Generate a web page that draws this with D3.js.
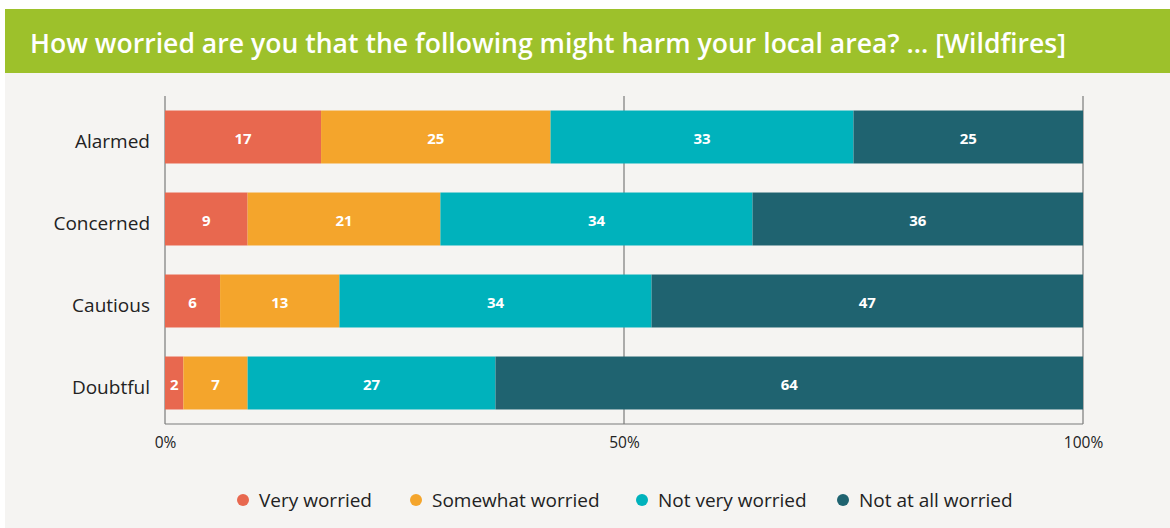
<!DOCTYPE html>
<html>
<head>
<meta charset="utf-8">
<script src="https://cdn.jsdelivr.net/npm/d3@7"></script>
<style>
  html, body { margin: 0; padding: 0; background: #ffffff; }
  svg { display: block; font-family: "Open Sans", "Noto Sans", sans-serif; }
</style>
</head>
<body>
<svg id="chart" width="1170" height="528"></svg>
<script>
// Survey segments and their answer shares (percent)
const categories = ["Alarmed", "Concerned", "Cautious", "Doubtful"];
const seriesNames = ["Very worried", "Somewhat worried", "Not very worried", "Not at all worried"];
const veryWorried = [17, 9, 6, 2];
const somewhatWorried = [25, 21, 13, 7];
const notVeryWorried = [33, 34, 34, 27];
const notAtAllWorried = [25, 36, 47, 64];
const tickValues = [0, 50, 100];
const tickLabels = ["0%", "50%", "100%"];
const colors = ["#E8684F", "#F4A52C", "#00B2BC", "#1F6370"];
const title = "How worried are you that the following might harm your local area? ... [Wildfires]";

const seriesValues = [veryWorried, somewhatWorried, notVeryWorried, notAtAllWorried];
const rows = categories.map((c, i) => {
  const r = { category: c };
  seriesNames.forEach((s, j) => { r[s] = seriesValues[j][i]; });
  return r;
});

const svg = d3.select("#chart");

// panel background and title banner
svg.append("rect").attr("x", 5).attr("y", 9).attr("width", 1165).attr("height", 519).attr("fill", "#F5F4F2");
svg.append("rect").attr("x", 5).attr("y", 9).attr("width", 1165).attr("height", 64).attr("fill", "#9DC12B");
svg.append("text").attr("x", 30).attr("y", 52.5)
  .attr("fill", "#ffffff").attr("font-size", 26.5).attr("font-weight", 600)
  .attr("textLength", 1036).attr("lengthAdjust", "spacingAndGlyphs")
  .text(title);

const x = d3.scaleLinear().domain([0, 100]).range([165, 1083]);
const y = d3.scaleBand().domain(categories).range([96, 424]).paddingInner(0.354).paddingOuter(0.177);

// vertical grid lines at tick positions
svg.append("g").selectAll("line").data(tickValues).join("line")
  .attr("x1", d => x(d)).attr("x2", d => x(d))
  .attr("y1", 96).attr("y2", 424)
  .attr("stroke", "#7a7a7a").attr("stroke-width", 1.2);

// stacked bars
const stack = d3.stack().keys(seriesNames)(rows);
const layers = svg.append("g").selectAll("g").data(stack).join("g")
  .attr("fill", (d, i) => colors[i]);
layers.selectAll("rect").data(d => d).join("rect")
  .attr("x", d => x(d[0]))
  .attr("y", d => y(d.data.category))
  .attr("width", d => x(d[1]) - x(d[0]))
  .attr("height", y.bandwidth());

// value labels
const labels = svg.append("g");
stack.forEach(layer => {
  layer.forEach(d => {
    labels.append("text")
      .attr("x", (x(d[0]) + x(d[1])) / 2)
      .attr("y", y(d.data.category) + y.bandwidth() / 2 + 2)
      .attr("dy", "0.36em")
      .attr("text-anchor", "middle")
      .attr("fill", "#ffffff").attr("font-size", 15).attr("font-weight", 700)
      .text(d[1] - d[0]);
  });
});

// bottom axis baseline and tick labels
svg.append("line").attr("x1", x(0)).attr("x2", x(100)).attr("y1", 424).attr("y2", 424)
  .attr("stroke", "#7a7a7a").attr("stroke-width", 1.2);
const xAxis = d3.axisBottom(x).tickValues(tickValues).tickFormat((d, i) => tickLabels[i]).tickSize(0).tickPadding(13);
const gx = svg.append("g").attr("transform", "translate(0,424)").call(xAxis);
gx.select(".domain").remove();
gx.selectAll("text").attr("font-size", 15.5).attr("fill", "#222").attr("font-family", "\"Open Sans\", sans-serif");

// category labels
const yAxis = d3.axisLeft(y).tickSize(0).tickPadding(15);
const gy = svg.append("g").attr("transform", "translate(165,4.5)").call(yAxis);
gy.select(".domain").remove();
gy.selectAll("text").attr("font-size", 19).attr("fill", "#222").attr("font-family", "\"Open Sans\", sans-serif");

// legend
const legendX = [243, 416, 642, 843];
const legend = svg.append("g").selectAll("g").data(seriesNames).join("g")
  .attr("transform", (d, i) => `translate(${legendX[i]},500)`);
legend.append("circle").attr("r", 6).attr("fill", (d, i) => colors[i]);
legend.append("text").attr("x", 16).attr("dy", "0.35em")
  .attr("font-size", 19).attr("fill", "#222").text(d => d);
</script>
</body>
</html>
